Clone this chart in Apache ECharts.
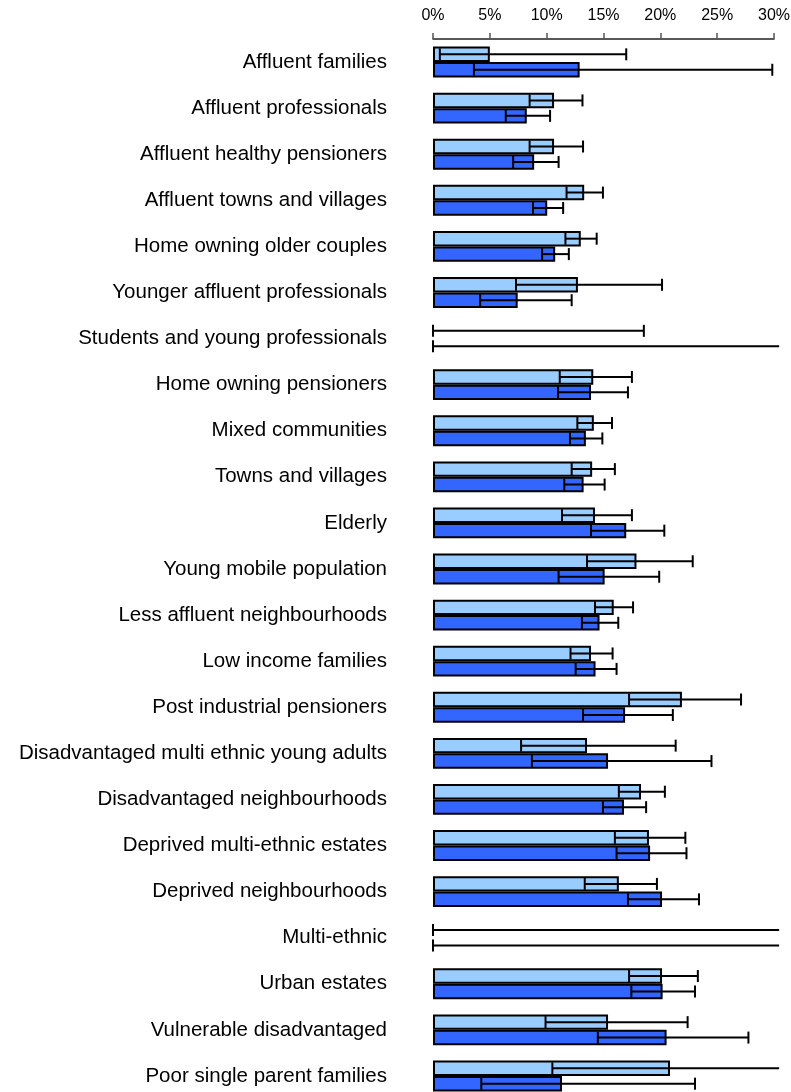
<!DOCTYPE html>
<html>
<head>
<meta charset="utf-8">
<script src="https://cdn.jsdelivr.net/npm/echarts@6/dist/echarts.min.js"></script>
<style>
html,body{margin:0;padding:0;background:#fff;}
#chart{width:791px;height:1092px;}
</style>
</head>
<body>
<div id="chart"></div>
<script>
var categories = [
  'Affluent families','Affluent professionals','Affluent healthy pensioners','Affluent towns and villages',
  'Home owning older couples','Younger affluent professionals','Students and young professionals',
  'Home owning pensioners','Mixed communities','Towns and villages','Elderly','Young mobile population',
  'Less affluent neighbourhoods','Low income families','Post industrial pensioners',
  'Disadvantaged multi ethnic young adults','Disadvantaged neighbourhoods','Deprived multi-ethnic estates',
  'Deprived neighbourhoods','Multi-ethnic','Urban estates','Vulnerable disadvantaged','Poor single parent families'
];
var xTicks = [0, 5, 10, 15, 20, 25, 30];

var lightVals = [5.0, 10.65, 10.65, 13.3, 13.0, 12.75, null, 14.1, 14.15, 14.0, 14.25, 17.9, 15.9, 13.9, 21.9, 13.55, 18.3, 19.0, 16.35, null, 20.15, 15.4, 20.85];
var lightLow  = [0.6, 8.5, 8.5, 11.75, 11.65, 7.3, 0, 11.15, 12.7, 12.2, 11.35, 13.55, 14.25, 12.1, 17.25, 7.75, 16.35, 16.0, 13.35, 0, 17.25, 9.9, 10.5];
var lightHigh = [17.0, 13.15, 13.2, 14.95, 14.4, 20.15, 18.55, 17.5, 15.75, 16.0, 17.5, 22.85, 17.6, 15.8, 27.1, 21.35, 20.4, 22.2, 19.7, 35, 23.3, 22.4, 35];

var darkVals = [12.9, 8.25, 8.9, 10.05, 10.75, 7.45, null, 13.9, 13.45, 13.25, 17.0, 15.1, 14.65, 14.3, 16.9, 15.4, 16.8, 19.1, 20.15, null, 20.2, 20.55, 11.35];
var darkLow  = [3.6, 6.4, 7.05, 8.8, 9.6, 4.15, 0, 11.0, 12.05, 11.55, 13.9, 11.05, 13.1, 12.55, 13.2, 8.7, 14.95, 16.15, 17.15, 0, 17.45, 14.5, 4.25];
var darkHigh = [29.85, 10.3, 11.05, 11.45, 11.95, 12.2, 35, 17.15, 14.9, 15.1, 20.35, 19.9, 16.3, 16.15, 21.1, 24.5, 18.75, 22.3, 23.4, 35, 23.05, 27.75, 23.05];

var CAT_GAP = 0.33;

function errData(lo, hi) {
  return lo.map(function (v, i) { return [v, hi[i], i]; });
}

function makeErr(side) {
  return function (params, api) {
    var idx = api.value(2);
    var lo = api.value(0), hi = api.value(1);
    var band = api.size([0, 1])[1];
    var bw = band * (1 - CAT_GAP) / 2;
    var c = api.coord([lo, idx]);
    var y = c[1] + side * bw / 2;
    var x1 = c[0];
    var x2 = api.coord([hi, idx])[0];
    var maxPx = api.coord([30.45, idx])[0];
    var capR = true;
    if (x2 > maxPx) { x2 = maxPx; capR = false; }
    var st = { stroke: '#000', lineWidth: 2 };
    var h = 6;
    var children = [
      { type: 'line', shape: { x1: x1, y1: y, x2: x2, y2: y }, style: st },
      { type: 'line', shape: { x1: x1, y1: y - h, x2: x1, y2: y + h }, style: st }
    ];
    if (capR) children.push({ type: 'line', shape: { x1: x2, y1: y - h, x2: x2, y2: y + h }, style: st });
    return { type: 'group', children: children };
  };
}

var chart = echarts.init(document.getElementById('chart'), null, { renderer: 'canvas' });
chart.setOption({
  animation: false,
  backgroundColor: '#fff',
  textStyle: { fontFamily: 'Liberation Sans, Arial, sans-serif' },
  grid: { left: 433, right: 17, top: 39, height: 1060, containLabel: false, outerBoundsMode: 'none' },
  xAxis: {
    type: 'value', position: 'top', min: 0, max: 30, interval: 5,
    splitLine: { show: false },
    axisLine: { show: true, lineStyle: { color: '#222', width: 1.5 } },
    axisTick: { show: true, length: 6, lineStyle: { color: '#555', width: 1.5 } },
    axisLabel: {
      color: '#000', fontSize: 16, margin: 15,
      fontFamily: 'Liberation Sans, Arial, sans-serif',
      formatter: function (v) { return xTicks.indexOf(v) >= 0 ? v + '%' : ''; }
    }
  },
  yAxis: {
    type: 'category', data: categories, inverse: true,
    axisLine: { show: false }, axisTick: { show: false },
    axisLabel: { color: '#000', fontSize: 20.5, margin: 46, fontFamily: 'Liberation Sans, Arial, sans-serif' }
  },
  series: [
    {
      type: 'bar', name: 'light', data: lightVals, barGap: '0%', barCategoryGap: (CAT_GAP * 100) + '%',
      itemStyle: { color: '#99CCFF', borderColor: '#000', borderWidth: 2 }
    },
    {
      type: 'bar', name: 'dark', data: darkVals, barGap: '0%', barCategoryGap: (CAT_GAP * 100) + '%',
      itemStyle: { color: '#3366FF', borderColor: '#000', borderWidth: 2 }
    },
    {
      type: 'custom', name: 'lightErr', data: errData(lightLow, lightHigh),
      encode: { x: [0, 1], y: 2 }, renderItem: makeErr(-1), z: 10, clip: false
    },
    {
      type: 'custom', name: 'darkErr', data: errData(darkLow, darkHigh),
      encode: { x: [0, 1], y: 2 }, renderItem: makeErr(1), z: 10, clip: false
    }
  ]
});
</script>
</body>
</html>
